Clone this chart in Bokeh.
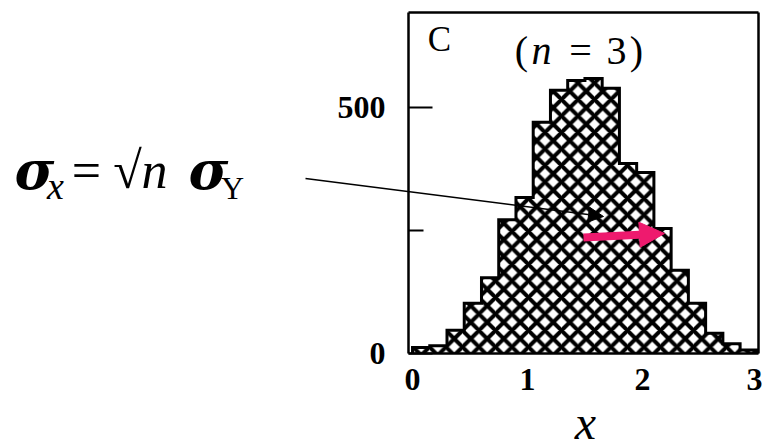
import numpy as np
from bokeh.plotting import figure
from bokeh.models import Range1d, FixedTicker, Label, Arrow, NormalHead, LinearAxis
from bokeh.embed import file_html
from bokeh.resources import INLINE

# Histogram of x (sum of n = 3 variables): 20 bins of width 0.15 on [0, 3]
bin_edges = [0.0, 0.15, 0.3, 0.45, 0.6, 0.75, 0.9, 1.05, 1.2, 1.35, 1.5,
             1.65, 1.8, 1.95, 2.1, 2.25, 2.4, 2.55, 2.7, 2.85, 3.0]
counts = [12, 16, 47, 102, 154, 272, 317, 470, 535, 555,
          559, 539, 386, 368, 254, 169, 102, 41, 20, 7]

x_ticks = [0, 1, 2, 3]
y_ticks = [0, 500]
y_minor_ticks = [250]

W, H = 762, 447
SERIF = "Liberation Serif"

# axes box: data extent and where it sits on the canvas (px from top-left)
BOX_X = (-0.035, 3.01)
BOX_Y = (0.0, 693.0)
BOX_LEFT, BOX_RIGHT, BOX_TOP, BOX_BOTTOM = 408, 758, 12, 353

# the plotting frame spans the whole canvas so that the formula and the
# pointer arrow can sit beside the axes box
kx = (BOX_RIGHT - BOX_LEFT) / (BOX_X[1] - BOX_X[0])
ky = (BOX_BOTTOM - BOX_TOP) / (BOX_Y[1] - BOX_Y[0])
x_range = Range1d(BOX_X[0] - BOX_LEFT / kx, BOX_X[1] + (W - BOX_RIGHT) / kx)
y_range = Range1d(BOX_Y[0] - (H - BOX_BOTTOM) / ky, BOX_Y[1] + BOX_TOP / ky)

p = figure(width=W, height=H, output_backend="svg", toolbar_location=None,
           x_range=x_range, y_range=y_range,
           min_border_left=0, min_border_right=0,
           min_border_top=0, min_border_bottom=0)
p.xgrid.visible = False
p.ygrid.visible = False
p.outline_line_color = None
p.background_fill_color = "white"
p.border_fill_color = "white"

# histogram: hatched area under the stepped outline
edges = np.asarray(bin_edges)
c = np.asarray(counts, dtype=float)
step_x = np.repeat(edges, 2)
step_y = np.concatenate([[0.0], np.repeat(c, 2), [0.0]])
p.patch(step_x, step_y, fill_color="white", line_color=None,
        hatch_pattern="x", hatch_color="black", hatch_weight=4, hatch_scale=16.5)
p.line(step_x, step_y, line_color="black", line_width=3, line_join="miter")

# axes drawn at the edges of the box
bottom_axis = p.below[0]
left_axis = p.left[0]
bottom_axis.fixed_location = BOX_Y[0]
bottom_axis.bounds = BOX_X
left_axis.fixed_location = BOX_X[0]
left_axis.bounds = BOX_Y

top_axis = LinearAxis(fixed_location=BOX_Y[1], bounds=BOX_X,
                      ticker=FixedTicker(ticks=[], minor_ticks=[]))
right_axis = LinearAxis(fixed_location=BOX_X[1], bounds=BOX_Y,
                        ticker=FixedTicker(ticks=[], minor_ticks=[]))
p.add_layout(top_axis, "above")
p.add_layout(right_axis, "right")

for ax in (bottom_axis, left_axis, top_axis, right_axis):
    ax.axis_line_color = "black"
    ax.axis_line_width = 2.5
    ax.major_tick_line_color = "black"
    ax.major_tick_line_width = 2
    ax.minor_tick_line_color = "black"
    ax.minor_tick_line_width = 2
    ax.major_label_text_font = SERIF
    ax.major_label_text_font_size = "32px"
    ax.major_label_text_font_style = "bold"
    ax.major_label_text_color = "black"
    ax.major_tick_out = 0
    ax.minor_tick_out = 0
    ax.major_tick_in = 0
    ax.minor_tick_in = 0

left_axis.ticker = FixedTicker(ticks=y_ticks, minor_ticks=y_minor_ticks)
left_axis.major_tick_in = 24
left_axis.minor_tick_in = 15
left_axis.major_label_standoff = 23

bottom_axis.ticker = FixedTicker(ticks=x_ticks, minor_ticks=[])
bottom_axis.major_label_standoff = 15


# annotation placement helpers: positions are pixels from the canvas top-left,
# py is the text baseline
def sx(px):
    return px


def sy(py):
    return H - py


def text(px, py, s, size, font=SERIF, style="normal", align="center"):
    p.add_layout(Label(x=sx(px), y=sy(py) + 0.32 * size,
                       x_units="screen", y_units="screen",
                       text=s, text_font=font, text_font_size=f"{size}px",
                       text_font_style=style, text_color="black",
                       text_align=align, text_baseline="alphabetic"))


# panel letter and subtitle
text(439, 50, "C", 35)
text(521, 63, "(", 40)
text(541, 63, "n", 40, style="italic")
text(580, 63, "=", 40)
text(616, 63, "3", 40)
text(636, 63, ")", 40)

# x axis label
text(585, 437, "x", 48, style="italic")

# formula on the left
text(14, 187, "σ", 54, font="DejaVu Serif", style="bold italic", align="left")
text(55, 198, "x", 38, style="italic")
text(86, 187, "=", 52)
text(127, 187, "√", 52)
text(154, 187, "n", 52, style="italic")
text(188, 187, "σ", 54, font="DejaVu Serif", style="bold italic", align="left")
text(232, 198, "Y", 32)

# pointer from the formula into the histogram
p.add_layout(Arrow(x_start=sx(305), y_start=sy(178), x_end=sx(603), y_end=sy(216),
                   start_units="screen", end_units="screen",
                   line_color="black", line_width=1.5,
                   end=NormalHead(size=15, fill_color="black", line_color="black")))

# width arrow
p.add_layout(Arrow(x_start=sx(583), y_start=sy(237), x_end=sx(664), y_end=sy(233),
                   start_units="screen", end_units="screen",
                   line_color="#EE1A6E", line_width=8,
                   end=NormalHead(size=25, fill_color="#EE1A6E", line_color="#EE1A6E",
                                  line_width=1)))

open("out.html", "w").write(file_html(p, INLINE))
